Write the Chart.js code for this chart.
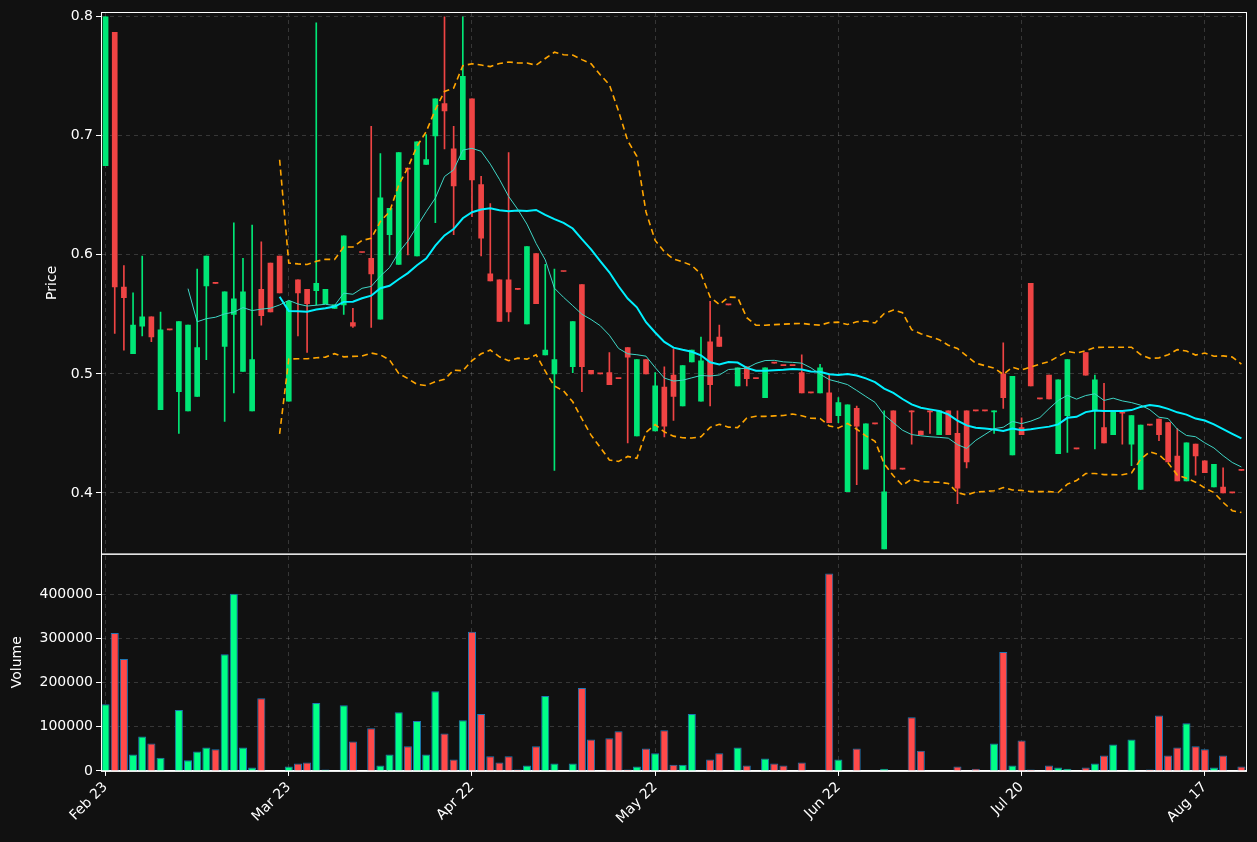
<!DOCTYPE html>
<html>
<head>
<meta charset="utf-8">
<script src="https://cdn.jsdelivr.net/npm/chart.js@4"></script>
<style>
  html, body { margin: 0; padding: 0; background: #111111; }
  #wrap { position: relative; width: 1257px; height: 842px; }
</style>
</head>
<body>
<div id="wrap"><canvas id="chart" width="1257" height="842"></canvas></div>
<script>
// ---- data (one entry per trading day) ----
const opens = [
  0.675, 0.787, 0.573, 0.517, 0.540, 0.548, 0.470, 0.537, 0.485, 0.469,
  0.481, 0.574, 0.576, 0.523, 0.550, 0.502, 0.469, 0.571, 0.593, 0.599,
  0.477, 0.579, 0.571, 0.570, 0.559, 0.555, 0.558, 0.543, 0.602, 0.597,
  0.546, 0.617, 0.592, 0.672, 0.599, 0.676, 0.700, 0.727, 0.689, 0.680,
  0.731, 0.659, 0.584, 0.579, 0.579, 0.571, 0.542, 0.601, 0.516, 0.500,
  0.586, 0.506, 0.575, 0.503, 0.500, 0.501, 0.496, 0.522, 0.448, 0.512,
  0.452, 0.489, 0.499, 0.473, 0.510, 0.477, 0.527, 0.531, 0.558, 0.490,
  0.506, 0.496, 0.480, 0.509, 0.507, 0.507, 0.501, 0.484, 0.484, 0.484,
  0.465, 0.401, 0.471, 0.420, 0.458, 0.353, 0.469, 0.420, 0.469, 0.452,
  0.469, 0.449, 0.469, 0.450, 0.469, 0.469, 0.469, 0.468, 0.500, 0.432,
  0.455, 0.576, 0.479, 0.499, 0.433, 0.465, 0.437, 0.518, 0.470, 0.455,
  0.449, 0.467, 0.441, 0.403, 0.457, 0.462, 0.459, 0.431, 0.410, 0.441,
  0.427, 0.405, 0.405, 0.400, 0.419
];
const highs = [
  0.800, 0.787, 0.591, 0.568, 0.599, 0.548, 0.552, 0.537, 0.544, 0.541,
  0.588, 0.599, 0.576, 0.569, 0.627, 0.597, 0.625, 0.611, 0.593, 0.599,
  0.561, 0.579, 0.571, 0.795, 0.571, 0.558, 0.616, 0.555, 0.602, 0.708,
  0.685, 0.639, 0.686, 0.672, 0.695, 0.701, 0.731, 0.800, 0.708, 0.800,
  0.731, 0.666, 0.643, 0.579, 0.686, 0.571, 0.607, 0.601, 0.592, 0.588,
  0.586, 0.544, 0.575, 0.503, 0.500, 0.518, 0.496, 0.522, 0.512, 0.512,
  0.501, 0.506, 0.521, 0.507, 0.520, 0.531, 0.561, 0.541, 0.558, 0.505,
  0.506, 0.496, 0.505, 0.509, 0.507, 0.507, 0.516, 0.484, 0.508, 0.500,
  0.480, 0.474, 0.473, 0.458, 0.458, 0.469, 0.469, 0.420, 0.469, 0.452,
  0.469, 0.469, 0.469, 0.469, 0.469, 0.469, 0.469, 0.469, 0.526, 0.498,
  0.463, 0.576, 0.479, 0.499, 0.495, 0.512, 0.437, 0.518, 0.499, 0.492,
  0.468, 0.467, 0.465, 0.457, 0.457, 0.462, 0.459, 0.454, 0.442, 0.441,
  0.427, 0.424, 0.421, 0.400, 0.419
];
const lows = [
  0.675, 0.534, 0.520, 0.517, 0.532, 0.527, 0.470, 0.537, 0.450, 0.469,
  0.481, 0.512, 0.576, 0.460, 0.484, 0.502, 0.469, 0.541, 0.552, 0.568,
  0.477, 0.532, 0.518, 0.558, 0.559, 0.555, 0.550, 0.539, 0.602, 0.539,
  0.546, 0.600, 0.592, 0.600, 0.599, 0.676, 0.627, 0.689, 0.617, 0.680,
  0.632, 0.599, 0.578, 0.544, 0.544, 0.571, 0.542, 0.559, 0.516, 0.419,
  0.586, 0.501, 0.485, 0.500, 0.500, 0.491, 0.496, 0.442, 0.448, 0.500,
  0.452, 0.447, 0.461, 0.473, 0.510, 0.477, 0.473, 0.523, 0.558, 0.490,
  0.490, 0.496, 0.480, 0.509, 0.507, 0.507, 0.484, 0.484, 0.484, 0.459,
  0.459, 0.401, 0.407, 0.420, 0.458, 0.353, 0.420, 0.420, 0.441, 0.449,
  0.450, 0.449, 0.449, 0.391, 0.421, 0.469, 0.469, 0.450, 0.471, 0.432,
  0.449, 0.490, 0.479, 0.479, 0.433, 0.434, 0.437, 0.499, 0.437, 0.442,
  0.449, 0.441, 0.423, 0.403, 0.457, 0.444, 0.426, 0.410, 0.410, 0.415,
  0.417, 0.405, 0.400, 0.400, 0.419
];
const closes = [
  0.800, 0.573, 0.564, 0.541, 0.548, 0.531, 0.537, 0.537, 0.544, 0.541,
  0.522, 0.599, 0.576, 0.569, 0.563, 0.569, 0.512, 0.549, 0.552, 0.568,
  0.561, 0.568, 0.559, 0.576, 0.571, 0.558, 0.616, 0.540, 0.602, 0.584,
  0.648, 0.639, 0.686, 0.672, 0.695, 0.680, 0.731, 0.721, 0.658, 0.750,
  0.663, 0.614, 0.578, 0.544, 0.552, 0.571, 0.607, 0.559, 0.520, 0.512,
  0.586, 0.544, 0.506, 0.500, 0.500, 0.491, 0.496, 0.514, 0.512, 0.500,
  0.490, 0.456, 0.481, 0.507, 0.520, 0.511, 0.491, 0.523, 0.558, 0.505,
  0.496, 0.496, 0.505, 0.509, 0.507, 0.507, 0.484, 0.484, 0.505, 0.459,
  0.476, 0.474, 0.456, 0.458, 0.458, 0.401, 0.420, 0.420, 0.468, 0.449,
  0.468, 0.469, 0.449, 0.404, 0.426, 0.469, 0.469, 0.469, 0.480, 0.498,
  0.449, 0.490, 0.479, 0.479, 0.495, 0.512, 0.437, 0.499, 0.495, 0.442,
  0.468, 0.467, 0.465, 0.457, 0.457, 0.449, 0.426, 0.410, 0.442, 0.431,
  0.417, 0.424, 0.400, 0.400, 0.419
];
const volumes = [
  151000, 313000, 254000, 37000, 78000, 62000, 30000, 0, 138000, 24000,
  44000, 53000, 49000, 265000, 402000, 53000, 8000, 165000, 1000, 1000,
  10000, 17000, 19000, 154000, 3000, 0, 149000, 67000, 0, 97000,
  12000, 37000, 133000, 56000, 113000, 37000, 181000, 85000, 26000, 115000,
  316000, 129000, 33000, 19000, 33000, 3000, 12000, 56000, 170000, 17000,
  0, 17000, 188000, 71000, 0, 74000, 90000, 3000, 10000, 51000,
  40000, 92000, 14000, 14000, 129000, 0, 26000, 40000, 0, 53000,
  12000, 0, 28000, 17000, 12000, 0, 19000, 0, 1000, 448000,
  26000, 1000, 51000, 1000, 0, 5000, 1000, 0, 122000, 46000,
  1000, 1000, 0, 10000, 0, 5000, 0, 62000, 270000, 12000,
  69000, 3000, 0, 12000, 8000, 5000, 0, 8000, 17000, 35000,
  60000, 0, 71000, 0, 3000, 126000, 35000, 53000, 108000, 56000,
  49000, 8000, 35000, 1000, 10000
];
const tickIndex  = [0, 20, 40, 60, 80, 100, 120];
const tickLabels = ['Feb 23', 'Mar 23', 'Apr 22', 'May 22', 'Jun 22', 'Jul 20', 'Aug 17'];
const priceTicks  = [0.4, 0.5, 0.6, 0.7, 0.8];
const volumeTicks = [0, 100000, 200000, 300000, 400000];

// ---- indicators (moving averages of the closes, Bollinger bands) ----
const sma = (n) => closes.map((_, i) => {
  if (i < n - 1) return null;
  let s = 0;
  for (let k = i - n + 1; k <= i; k++) s += closes[k];
  return s / n;
});
const sma10 = sma(10);
const sma20 = sma(20);
const band = (sign) => closes.map((_, i) => {
  if (i < 19) return null;
  const m = sma20[i];
  let v = 0;
  for (let k = i - 19; k <= i; k++) v += (closes[k] - m) ** 2;
  return m + sign * 2 * Math.sqrt(v / 20);
});

const UP = '#00e676', DOWN = '#ef4444';
const VUP = '#00ff88', VDOWN = '#ff4a4a';
const isUp = closes.map((c, i) => c > opens[i]);
const labels = closes.map((_, i) => {
  const t = tickIndex.indexOf(i);
  return t >= 0 ? tickLabels[t] : '';
});

// white frames around both panels + the axis titles
const frames = {
  id: 'frames',
  afterDraw(chart) {
    const ctx = chart.ctx, x = chart.scales.x;
    ctx.save();
    ctx.strokeStyle = '#ffffff';
    ctx.lineWidth = 1;
    ['y', 'yv'].forEach((id) => {
      const s = chart.scales[id];
      ctx.strokeRect(x.left + 0.5, s.top + 0.5, x.right - x.left, s.bottom - s.top);
    });
    ctx.fillStyle = '#ffffff';
    ctx.font = '14px "DejaVu Sans"';
    ctx.textAlign = 'center';
    ctx.textBaseline = 'middle';
    [['y', 'Price', 52], ['yv', 'Volume', 17]].forEach(([id, text, tx]) => {
      const s = chart.scales[id];
      ctx.save();
      ctx.translate(tx, (s.top + s.bottom) / 2);
      ctx.rotate(-Math.PI / 2);
      ctx.fillText(text, 0, 0);
      ctx.restore();
    });
    ctx.restore();
  }
};

const gridColor = 'rgba(255,255,255,0.16)';
const fixWidth = (w) => (scale) => { scale.width = w; };
const font = { family: 'DejaVu Sans', size: 14 };

new Chart(document.getElementById('chart'), {
  data: {
    labels,
    datasets: [
      { type: 'line', data: sma10, yAxisID: 'y', borderColor: '#3fd6c6', borderWidth: 1,
        pointRadius: 0, order: 1 },
      { type: 'line', data: sma20, yAxisID: 'y', borderColor: '#00f0ff', borderWidth: 2,
        pointRadius: 0, order: 1 },
      { type: 'line', data: band(1), yAxisID: 'y', borderColor: '#ffa500', borderWidth: 1.6,
        borderDash: [6, 4], pointRadius: 0, order: 1 },
      { type: 'line', data: band(-1), yAxisID: 'y', borderColor: '#ffa500', borderWidth: 1.6,
        borderDash: [6, 4], pointRadius: 0, order: 1 },
      { type: 'bar', data: closes.map((_, i) => [lows[i], highs[i]]), yAxisID: 'y', grouped: false,
        backgroundColor: isUp.map((u) => u ? UP : DOWN), barThickness: 1, order: 3 },
      { type: 'bar', data: closes.map((c, i) => [opens[i], c]), yAxisID: 'y', grouped: false,
        backgroundColor: isUp.map((u) => u ? UP : DOWN), barThickness: 5, minBarLength: 1, order: 2 },
      { type: 'bar', data: volumes, yAxisID: 'yv', grouped: false,
        backgroundColor: isUp.map((u) => u ? VUP : VDOWN), borderColor: '#1f77b4', borderWidth: 1,
        barPercentage: 0.88, categoryPercentage: 1, order: 2 },
    ],
  },
  options: {
    responsive: false,
    animation: false,
    layout: { padding: { top: 12, right: 11, left: 0, bottom: 12 } },
    plugins: { legend: { display: false }, tooltip: { enabled: false } },
    scales: {
      x: {
        type: 'category', offset: true,
        grid: { offset: false, color: (c) => tickIndex.includes(c.index) ? gridColor : 'transparent',
                tickColor: (c) => tickIndex.includes(c.index) ? '#ffffff' : 'transparent', tickLength: 5 },
        border: { color: '#ffffff', dash: [4, 4] },
        ticks: { autoSkip: false, maxRotation: 45, minRotation: 45, color: '#ffffff', font },
      },
      yv: {
        stack: 'panels', stackWeight: 217, position: 'left', offset: false,
        min: 0, max: 493000, afterFit: fixWidth(101),
        afterBuildTicks: (s) => { s.ticks = volumeTicks.map((v) => ({ value: v })); },
        ticks: { color: '#ffffff', font, callback: (v) => String(v) },
        grid: { color: gridColor, tickColor: '#ffffff', tickLength: 5 },
        border: { color: '#ffffff', dash: [4, 4] },
      },
      y: {
        stack: 'panels', stackWeight: 541, position: 'left',
        min: 0.349, max: 0.804, afterFit: fixWidth(101),
        afterBuildTicks: (s) => { s.ticks = priceTicks.map((v) => ({ value: v })); },
        ticks: { color: '#ffffff', font, callback: (v) => v.toFixed(1) },
        grid: { color: gridColor, tickColor: '#ffffff', tickLength: 5 },
        border: { color: '#ffffff', dash: [4, 4] },
      },
    },
  },
  plugins: [frames],
});
</script>
</body>
</html>
